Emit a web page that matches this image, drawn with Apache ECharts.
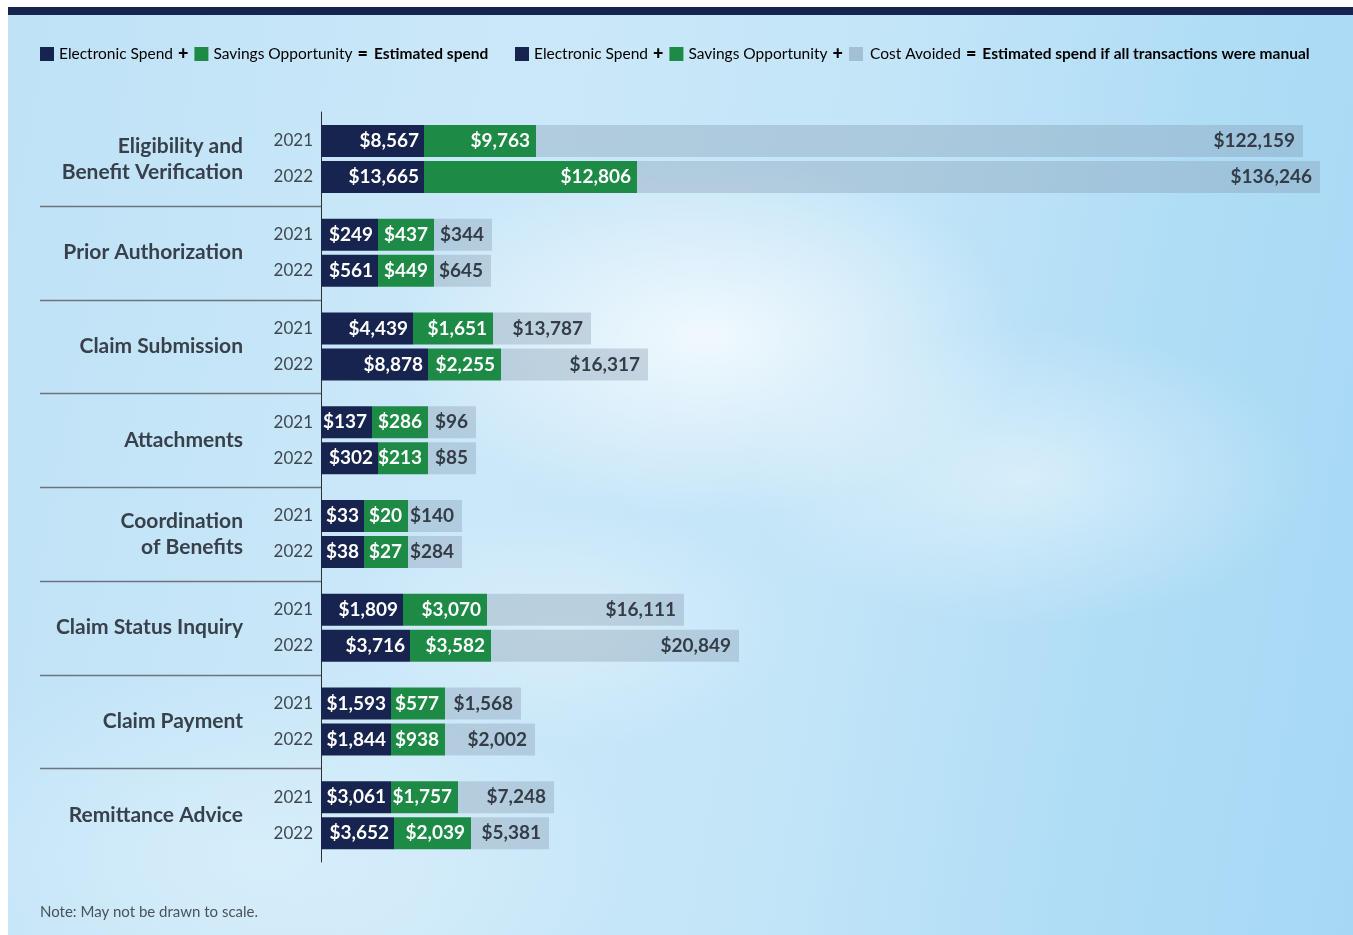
<!DOCTYPE html>
<html>
<head>
<meta charset="utf-8">
<script src="https://cdn.jsdelivr.net/npm/echarts@6/dist/echarts.min.js"></script>
<style>
  html, body { margin: 0; padding: 0; background: #ffffff; }
  #panel {
    position: absolute; left: 8px; top: 7px; width: 1345px; height: 928px;
    background:
      radial-gradient(ellipse 420px 240px at 700px 330px, rgba(255,255,255,0.75), rgba(255,255,255,0) 75%),
      radial-gradient(ellipse 380px 200px at 1020px 470px, rgba(255,255,255,0.45), rgba(255,255,255,0) 75%),
      radial-gradient(ellipse 300px 160px at 560px 620px, rgba(255,255,255,0.3), rgba(255,255,255,0) 75%),
      radial-gradient(ellipse 500px 260px at 250px 850px, rgba(230,245,253,0.5), rgba(230,245,253,0) 75%),
      linear-gradient(100deg, #bfe2f6 0%, #cbe8f9 35%, #c3e5f8 60%, #b0ddf6 80%, #a6d8f5 100%);
  }
  #topbar { position: absolute; left: 8px; top: 7px; width: 1345px; height: 8px; background: #17244f; }
  #chart { position: absolute; left: 0; top: 0; width: 1353px; height: 935px; }
</style>
</head>
<body>
<div id="panel"></div>
<div id="topbar"></div>
<div id="chart"></div>
<script>
// Transaction categories, top to bottom
const categories = [
  'Eligibility and\nBenefit Verification',
  'Prior Authorization',
  'Claim Submission',
  'Attachments',
  'Coordination\nof Benefits',
  'Claim Status Inquiry',
  'Claim Payment',
  'Remittance Advice'
];
const years = ['2021', '2022'];

// Dollar amounts shown on each segment
const electronic2021 = [8567, 249, 4439, 137, 33, 1809, 1593, 3061];
const savings2021    = [9763, 437, 1651, 286, 20, 3070, 577, 1757];
const avoided2021    = [122159, 344, 13787, 96, 140, 16111, 1568, 7248];
const electronic2022 = [13665, 561, 8878, 302, 38, 3716, 1844, 3652];
const savings2022    = [12806, 449, 2255, 213, 27, 3582, 938, 2039];
const avoided2022    = [136246, 645, 16317, 85, 284, 20849, 2002, 5381];

// Drawn segment lengths (the chart is not drawn to scale)
const electronicLen2021 = [103, 57, 92, 51, 43, 82, 70, 70];
const savingsLen2021    = [112, 56, 80, 56, 44, 84, 54, 67];
const avoidedLen2021    = [767, 58, 98, 48, 54, 197, 76, 96];
const electronicLen2022 = [103, 57, 107, 57, 43, 89, 70, 73];
const savingsLen2022    = [213, 56, 73, 50, 44, 81, 54, 77];
const avoidedLen2022    = [683, 57, 147, 48, 54, 248, 90, 78];

const FONT = 'Lato';
const NAVY = '#17244f';
const GREEN = '#1d8b45';
const AVOID = 'rgba(120,140,158,0.30)';
const TEXT = '#38414b';

const fmt = v => '$' + v.toLocaleString('en-US');

function segment(name, stack, lengths, amounts, color, labelColor, dist) {
  return {
    name: name, type: 'bar', stack: stack, barWidth: 32, barGap: '12.5%',
    itemStyle: { color: color },
    label: {
      show: true, position: 'insideRight', distance: dist,
      fontFamily: FONT, fontSize: 19, fontWeight: 'bold', color: labelColor,
      formatter: p => fmt(amounts[p.dataIndex])
    },
    emphasis: { disabled: true },
    data: lengths
  };
}

function yearMarker(year, stack) {
  return {
    name: year, type: 'bar', stack: stack, barWidth: 32, barGap: '12.5%',
    itemStyle: { color: 'transparent' },
    label: {
      show: true, position: 'left', distance: 8,
      fontFamily: FONT, fontSize: 17, color: '#3f4851', formatter: year
    },
    emphasis: { disabled: true },
    data: categories.map(() => 0)
  };
}

const chart = echarts.init(document.getElementById('chart'), null, { renderer: 'canvas' });

const legendRich = {
  sqD: { width: 14, height: 14, backgroundColor: NAVY },
  sqG: { width: 14, height: 14, backgroundColor: GREEN },
  sqA: { width: 14, height: 14, backgroundColor: '#a3c0d2' },
  es:  { fontFamily: FONT, fontSize: 15.5, color: '#1f2a4a', padding: [0, 0, 0, 5] },
  so:  { fontFamily: FONT, fontSize: 15.5, color: GREEN, padding: [0, 0, 0, 5] },
  ca:  { fontFamily: FONT, fontSize: 15.5, color: '#8a949b', padding: [0, 0, 0, 7] },
  op:  { fontFamily: FONT, fontSize: 18, fontWeight: 900, color: '#2f3842', padding: [0, 6, 0, 5] },
  res: { fontFamily: FONT, fontSize: 15.5, fontWeight: 'bold', color: '#2f3842' }
};

chart.setOption({
  animation: false,
  textStyle: { fontFamily: FONT },
  grid: { left: 321, top: 112, bottom: 73, width: 1000, containLabel: false },
  xAxis: { type: 'value', min: 0, max: 1000, show: false },
  yAxis: {
    type: 'category', data: categories, inverse: true,
    axisLine: { show: true, lineStyle: { color: '#2c2f33', width: 1 } },
    axisTick: { show: false },
    splitLine: { show: false },
    axisLabel: {
      margin: 78, fontFamily: FONT, fontSize: 21, fontWeight: 'bold',
      color: TEXT, lineHeight: 26, align: 'right'
    }
  },
  series: [
    yearMarker(years[0], 'y2021'),
    segment('Electronic Spend 2021', 'y2021', electronicLen2021, electronic2021, NAVY, '#ffffff', 5),
    segment('Savings Opportunity 2021', 'y2021', savingsLen2021, savings2021, GREEN, '#ffffff', 6),
    segment('Cost Avoided 2021', 'y2021', avoidedLen2021, avoided2021, AVOID, '#343d47', 8),
    yearMarker(years[1], 'y2022'),
    segment('Electronic Spend 2022', 'y2022', electronicLen2022, electronic2022, NAVY, '#ffffff', 5),
    segment('Savings Opportunity 2022', 'y2022', savingsLen2022, savings2022, GREEN, '#ffffff', 6),
    segment('Cost Avoided 2022', 'y2022', avoidedLen2022, avoided2022, AVOID, '#343d47', 8)
  ]
});

// Separator rules between category groups, placed from the axis scale
const x0 = chart.convertToPixel({ xAxisIndex: 0 }, 0);
const centers = categories.map((c, i) => chart.convertToPixel({ yAxisIndex: 0 }, i));
const graphics = [];
for (let i = 0; i < centers.length - 1; i++) {
  const y = Math.round((centers[i] + centers[i + 1]) / 2) + 0.5;
  graphics.push({
    type: 'line', silent: true,
    shape: { x1: 40, y1: y, x2: x0, y2: y },
    style: { stroke: '#6c757e', lineWidth: 1.5 }
  });
}

// Formula-style legends and note
graphics.push({
  type: 'text', left: 40, top: 45, silent: true,
  style: {
    text: '{sqD| }{es|Electronic Spend}{op|+}{sqG| }{so|Savings Opportunity}{op|=}{res|Estimated spend}',
    rich: legendRich
  }
});
graphics.push({
  type: 'text', left: 515, top: 45, silent: true,
  style: {
    text: '{sqD| }{es|Electronic Spend}{op|+}{sqG| }{so|Savings Opportunity}{op|+}{sqA| }{ca|Cost Avoided}{op|=}{res|Estimated spend if all transactions were manual}',
    rich: legendRich
  }
});
graphics.push({
  type: 'text', left: 40, top: 905, silent: true,
  style: { text: 'Note: May not be drawn to scale.', fontFamily: FONT, fontSize: 15, fill: '#4a535c' }
});

chart.setOption({ graphic: graphics });
</script>
</body>
</html>
